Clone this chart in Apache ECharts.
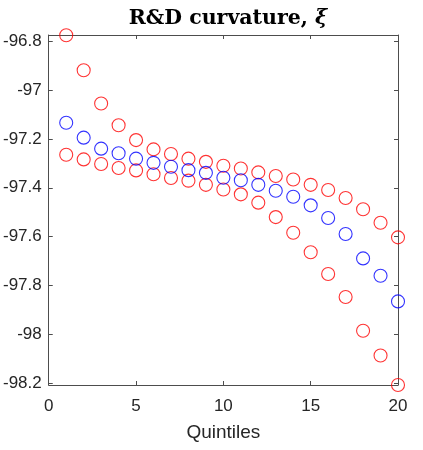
<!DOCTYPE html>
<html>
<head>
<meta charset="utf-8">
<script src="https://cdn.jsdelivr.net/npm/echarts@6/dist/echarts.min.js"></script>
<style>html,body{margin:0;padding:0;background:#fff}#c{width:423px;height:450px}</style>
</head>
<body>
<div id="c"></div>
<script>
const quintiles = [1,2,3,4,5,6,7,8,9,10,11,12,13,14,15,16,17,18,19,20];
const blueValues = [-97.134,-97.195,-97.240,-97.259,-97.281,-97.298,-97.314,-97.328,-97.339,-97.359,
  -97.369,-97.388,-97.412,-97.437,-97.472,-97.524,-97.589,-97.689,-97.760,-97.865];
const redUpper = [-96.776,-96.919,-97.055,-97.144,-97.205,-97.243,-97.262,-97.281,-97.294,-97.310,
  -97.321,-97.337,-97.352,-97.366,-97.388,-97.409,-97.442,-97.488,-97.543,-97.603];
const redLower = [-97.265,-97.284,-97.303,-97.319,-97.329,-97.345,-97.360,-97.371,-97.388,-97.407,
  -97.427,-97.461,-97.520,-97.584,-97.664,-97.753,-97.847,-97.985,-98.086,-98.207];
const yTicks = [-98.2,-98,-97.8,-97.6,-97.4,-97.2,-97,-96.8];
const xTicks = [0,5,10,15,20];
const yMin = -98.207, yMax = -96.775;
const titleText = 'R&D curvature, ';
const titleSym = 'ξ';
const xLabel = 'Quintiles';

const axisColor = '#4d4d4d';
const txtColor = '#262626';
const fmt = v => String(Number(Number(v).toFixed(1)));

function pts(vals){ return quintiles.map((q,i)=>[q, vals[i]]); }
function ser(vals, color){
  return {type:'scatter', data: pts(vals), symbol:'circle', symbolSize:13, clip:false,
    itemStyle:{color:'rgba(0,0,0,0)', borderColor:color, borderWidth:1.1},
    emphasis:{disabled:true}, silent:true, xAxisIndex:0, yAxisIndex:0};
}

const chart = echarts.init(document.getElementById('c'), null, {renderer:'canvas'});
chart.setOption({
  animation:false,
  backgroundColor:'#fff',
  title:{
    text:'{a|'+titleText+'}{b|'+titleSym+'}',
    left:223, top:3, textAlign:'center',
    textStyle:{rich:{
      a:{fontFamily:'DejaVu Serif', fontWeight:'bold', fontSize:20.5, color:'#000'},
      b:{fontFamily:'DejaVu Serif', fontStyle:'italic', fontSize:20.5, color:'#000'}
    }}
  },
  grid:{left:48, right:25, top:35, bottom:65, show:false},
  xAxis:[{
    type:'value', min:0, max:20, position:'bottom',
    axisLine:{show:true, onZero:false, lineStyle:{color:axisColor, width:1}},
    axisTick:{show:true, inside:true, length:4, customValues:xTicks, lineStyle:{color:axisColor}},
    axisLabel:{show:true, customValues:xTicks, margin:13, fontFamily:'Liberation Sans', fontSize:17, color:txtColor, formatter:fmt},
    splitLine:{show:false},
    name:xLabel, nameLocation:'middle', nameGap:38,
    nameTextStyle:{fontFamily:'Liberation Sans', fontSize:19, color:txtColor}
  },{
    type:'value', min:0, max:20, position:'top',
    axisLine:{show:true, onZero:false, lineStyle:{color:axisColor, width:1}},
    axisTick:{show:true, inside:true, length:4, customValues:xTicks, lineStyle:{color:axisColor}},
    axisLabel:{show:false}, splitLine:{show:false}
  }],
  yAxis:[{
    type:'value', min:yMin, max:yMax, position:'left',
    axisLine:{show:true, onZero:false, lineStyle:{color:axisColor, width:1}},
    axisTick:{show:true, inside:true, length:4, customValues:yTicks, lineStyle:{color:axisColor}},
    axisLabel:{show:true, customValues:yTicks, margin:7, fontFamily:'Liberation Sans', fontSize:17, color:txtColor, formatter:fmt},
    splitLine:{show:false}
  },{
    type:'value', min:yMin, max:yMax, position:'right',
    axisLine:{show:true, onZero:false, lineStyle:{color:axisColor, width:1}},
    axisTick:{show:true, inside:true, length:4, customValues:yTicks, lineStyle:{color:axisColor}},
    axisLabel:{show:false}, splitLine:{show:false}
  }],
  series:[
    ser(redUpper,'#ff0000'),
    ser(redLower,'#ff0000'),
    ser(blueValues,'#0000ff')
  ]
});
</script>
</body>
</html>
